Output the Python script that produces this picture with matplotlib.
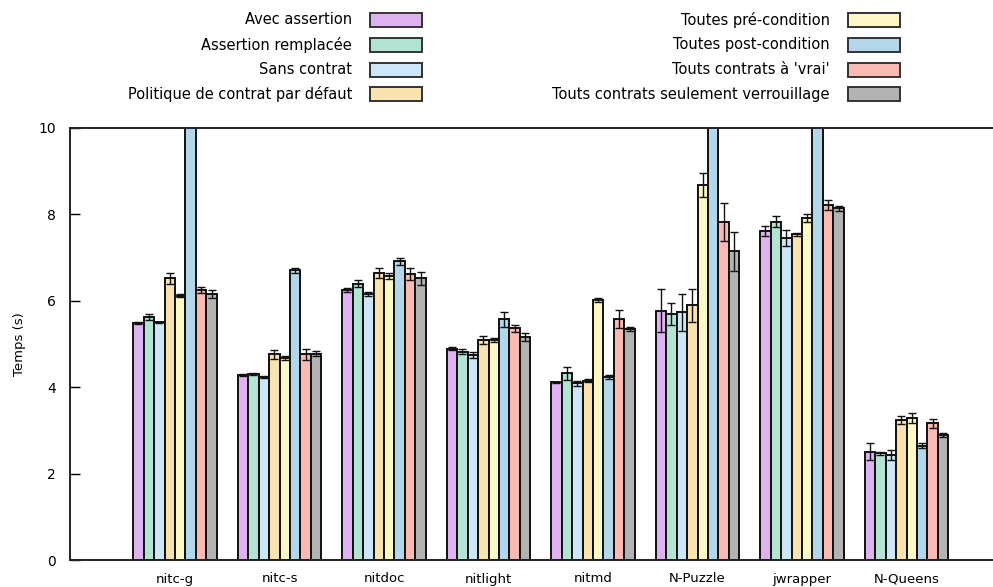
import matplotlib
matplotlib.use("Agg")
import matplotlib.pyplot as plt
import numpy as np
from matplotlib.patches import Rectangle

# benchmarks
programs = ['nitc-g', 'nitc-s', 'nitdoc', 'nitlight', 'nitmd', 'N-Puzzle', 'jwrapper', 'N-Queens']

# series labels (legend order)
labels = ['Avec assertion', 'Assertion remplacée', 'Sans contrat',
          'Politique de contrat par défaut', 'Toutes pré-condition',
          'Toutes post-condition', "Touts contrats à 'vrai'",
          'Touts contrats seulement verrouillage']

colors = ['#dfb3f0', '#b3e3d3', '#cde7f8', '#f8e2b0', '#fdf8c6',
          '#b3d6ea', '#f8bab3', '#b3b3b3']

# mean times (s), one list per series, in program order
avec = [5.48, 4.28, 6.25, 4.89, 4.11, 5.77, 7.62, 2.51]
remplacee = [5.62, 4.30, 6.40, 4.82, 4.32, 5.69, 7.83, 2.47]
sans = [5.50, 4.24, 6.16, 4.75, 4.09, 5.73, 7.45, 2.43]
defaut = [6.52, 4.76, 6.64, 5.09, 4.15, 5.90, 7.54, 3.24]
pre = [6.12, 4.67, 6.57, 5.09, 6.02, 8.68, 7.91, 3.28]
post = [12.0, 6.71, 6.91, 5.57, 4.24, 12.0, 12.0, 2.65]
vrai = [6.25, 4.76, 6.62, 5.36, 5.58, 7.83, 8.22, 3.16]
verrou = [6.16, 4.78, 6.52, 5.17, 5.35, 7.15, 8.14, 2.89]

# error (+/-)
avec_err = [0.02, 0.02, 0.05, 0.04, 0.02, 0.50, 0.12, 0.20]
remplacee_err = [0.07, 0.02, 0.08, 0.06, 0.15, 0.25, 0.13, 0.03]
sans_err = [0.02, 0.02, 0.05, 0.07, 0.06, 0.42, 0.18, 0.12]
defaut_err = [0.12, 0.10, 0.12, 0.10, 0.03, 0.38, 0.03, 0.10]
pre_err = [0.03, 0.05, 0.07, 0.05, 0.05, 0.28, 0.09, 0.12]
post_err = [0.0, 0.06, 0.08, 0.18, 0.04, 0.0, 0.0, 0.05]
vrai_err = [0.07, 0.12, 0.15, 0.09, 0.20, 0.44, 0.12, 0.10]
verrou_err = [0.10, 0.05, 0.15, 0.09, 0.04, 0.45, 0.05, 0.05]

means = [avec, remplacee, sans, defaut, pre, post, vrai, verrou]
errs = [avec_err, remplacee_err, sans_err, defaut_err, pre_err, post_err, vrai_err, verrou_err]

W, H = 993, 587
fig = plt.figure(figsize=(W / 100.0, H / 100.0), dpi=100)
ax = fig.add_axes([70.0 / W, 1 - 560.0 / H, (W - 70.0) / W, (560.0 - 128.0) / H])

nser = len(means)
bw = 0.1
x = np.arange(len(programs))
for j in range(nser):
    pos = x + (j - (nser - 1) / 2.0) * bw
    ax.bar(pos, means[j], width=bw, color=colors[j], edgecolor='#111111',
           linewidth=1.4, zorder=2)
    ax.errorbar(pos, means[j], yerr=errs[j], fmt='none', ecolor='#111111',
                elinewidth=1.0, capsize=3.2, capthick=1.0, zorder=3)

ax.set_xlim(-1.005, (W - 175.0) / 104.5)
ax.set_ylim(0, 10)
ax.set_yticks([0, 2, 4, 6, 8, 10])
ax.tick_params(axis='y', direction='in', length=7, width=1, labelsize=10, pad=10)
ax.set_xticks(x)
ax.set_xticklabels(programs, fontsize=9.5)
ax.tick_params(axis='x', length=0, pad=9)
ax.spines['right'].set_visible(False)
for s in ['top', 'bottom', 'left']:
    ax.spines[s].set_linewidth(1.4)
    ax.spines[s].set_color('#222222')
ax.set_ylabel('Temps (s)', fontsize=9.5, labelpad=9)

# legend drawn in figure pixels, two columns of four
for k, lab in enumerate(labels):
    col = k // 4
    row = k % 4
    sx = 370 if col == 0 else 848
    cy = 20 + row * 24.8
    fig.patches.append(Rectangle((sx / W, 1 - (cy + 7) / H), 52.0 / W, 14.0 / H,
                                 transform=fig.transFigure, facecolor=colors[k],
                                 edgecolor='#333333', linewidth=1.4))
    fig.text((sx - 18) / W, 1 - cy / H, lab, ha='right', va='center', fontsize=10.5)

fig.savefig('out.png', dpi=100)
